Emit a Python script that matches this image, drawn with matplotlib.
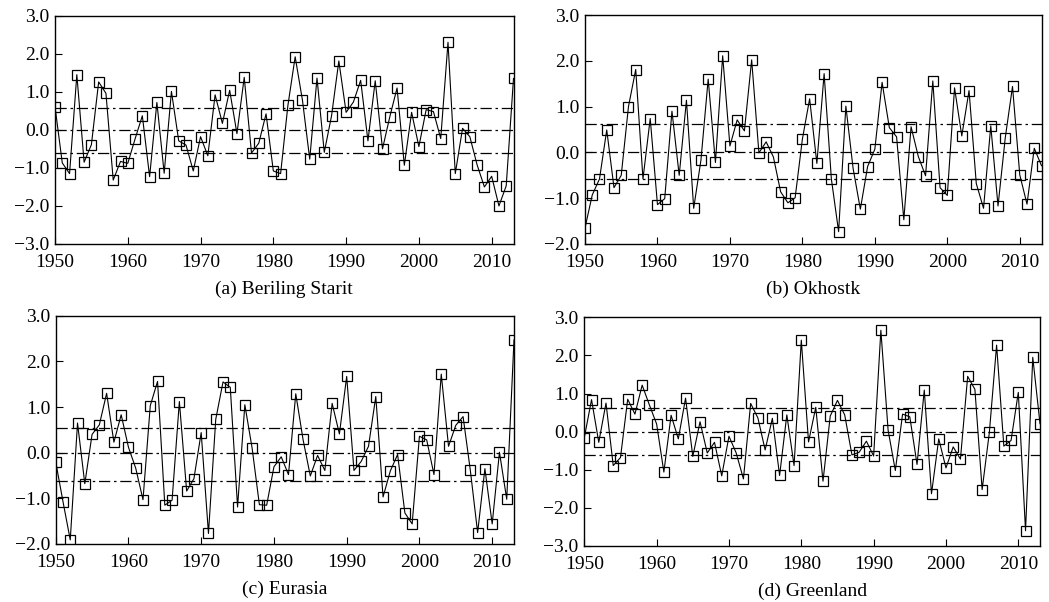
import matplotlib
matplotlib.use("Agg")
import matplotlib.pyplot as plt
import numpy as np

plt.rcParams['font.family'] = ['Liberation Serif', 'DejaVu Serif']
plt.rcParams['axes.unicode_minus'] = True

years = list(range(1950, 2014))

bering = [0.61, -0.87, -1.15, 1.45, -0.85, -0.39, 1.26, 0.96, -1.32, -0.83,
          -0.88, -0.24, 0.37, -1.23, 0.72, -1.14, 1.01, -0.29, -0.40, -1.08,
          -0.18, -0.68, 0.92, 0.17, 1.04, -0.10, 1.38, -0.61, -0.35, 0.42,
          -1.08, -1.15, 0.64, 1.92, 0.78, -0.77, 1.36, -0.59, 0.37, 1.81,
          0.46, 0.73, 1.30, -0.29, 1.29, -0.50, 0.34, 1.10, -0.93, 0.46,
          -0.44, 0.53, 0.48, -0.23, 2.30, -1.15, 0.04, -0.18, -0.92, -1.50,
          -1.22, -2.00, -1.47, 1.35]

okhotsk = [-1.65, -0.93, -0.58, 0.49, -0.77, -0.50, 1.00, 1.81, -0.58, 0.74,
           -1.14, -1.01, 0.90, -0.50, 1.14, -1.22, -0.17, 1.60, -0.22, 2.11,
           0.14, 0.71, 0.47, 2.02, -0.01, 0.23, -0.10, -0.86, -1.10, -0.99,
           0.29, 1.17, -0.24, 1.72, -0.58, -1.73, 1.01, -0.35, -1.24, -0.31,
           0.07, 1.53, 0.54, 0.34, -1.47, 0.56, -0.09, -0.51, 1.56, -0.77,
           -0.94, 1.41, 0.36, 1.35, -0.68, -1.22, 0.58, -1.17, 0.32, 1.44,
           -0.49, -1.13, 0.09, -0.29]

eurasia = [-0.20, -1.07, -1.91, 0.65, -0.68, 0.40, 0.61, 1.30, 0.23, 0.83,
           0.12, -0.34, -1.03, 1.03, 1.56, -1.15, -1.04, 1.12, -0.84, -0.57,
           0.44, -1.77, 0.73, 1.55, 1.43, -1.19, 1.05, 0.10, -1.14, -1.15,
           -0.31, -0.09, -0.48, 1.29, 0.29, -0.51, -0.06, -0.39, 1.08, 0.41,
           1.67, -0.39, -0.19, 0.14, 1.23, -0.97, -0.40, -0.04, -1.32, -1.56,
           0.36, 0.28, -0.48, 1.72, 0.14, 0.60, 0.79, -0.39, -1.75, -0.35,
           -1.56, 0.01, -1.02, 2.47]

greenland = [-0.16, 0.84, -0.28, 0.75, -0.89, -0.68, 0.85, 0.46, 1.22, 0.70,
             0.20, -1.06, 0.43, -0.19, 0.88, -0.65, 0.26, -0.56, -0.28, -1.16,
             -0.12, -0.56, -1.24, 0.74, 0.36, -0.48, 0.35, -1.15, 0.44, -0.89,
             2.40, -0.27, 0.64, -1.30, 0.41, 0.82, 0.44, -0.61, -0.54, -0.25,
             -0.64, 2.66, 0.04, -1.02, 0.46, 0.39, -0.86, 1.09, -1.63, -0.19,
             -0.95, -0.40, -0.72, 1.45, 1.11, -1.52, -0.02, 2.27, -0.38, -0.23,
             1.03, -2.60, 1.95, 0.21]

captions = ["(a) Beriling Starit", "(b) Okhostk", "(c) Eurasia", "(d) Greenland"]
series = [bering, okhotsk, eurasia, greenland]
ylims = [(-3, 3), (-2, 3), (-2, 3), (-3, 3)]
upper = [0.58, 0.63, 0.55, 0.61]
lower = [-0.61, -0.58, -0.63, -0.61]
xticks = [1950, 1960, 1970, 1980, 1990, 2000, 2010]

W, H = 1049, 602
fig = plt.figure(figsize=(W / 100, H / 100), dpi=100)
boxes = [(55, 15.7, 513.5, 244), (585, 15, 1041.5, 244),
         (55.7, 315.7, 514, 544), (584.3, 317.3, 1040, 546)]

fs = 14
for i, (l, t, r, b) in enumerate(boxes):
    ax = fig.add_axes([l / W, (H - b) / H, (r - l) / W, (b - t) / H])
    ax.plot(years, series[i], color='black', lw=0.8, marker='s', markersize=7,
            markerfacecolor='none', markeredgecolor='black', markeredgewidth=0.9,
            zorder=3)
    dash = (0, (9, 3, 2, 3))
    for yv in (upper[i], 0.0, lower[i]):
        ax.axhline(yv, color='black', lw=0.9, linestyle=dash, zorder=2)
    ax.set_xlim(1950, 2013)
    ax.set_ylim(*ylims[i])
    ax.set_xticks(xticks)
    yt = np.arange(ylims[i][0], ylims[i][1] + 0.5, 1.0)
    ax.set_yticks(yt)
    ax.set_yticklabels([f"{v:.1f}".replace('-', '\u2212') for v in yt])
    ax.tick_params(direction='in', length=5, width=0.8, labelsize=fs,
                   top=False, right=False)
    ax.tick_params(axis='x', pad=7)
    ax.tick_params(axis='y', pad=4)
    for s in ax.spines.values():
        s.set_linewidth(1.0)
    ax.text(0.5, -0.20, captions[i], transform=ax.transAxes,
            ha='center', va='center', fontsize=fs)

fig.savefig("out.png", dpi=100)
